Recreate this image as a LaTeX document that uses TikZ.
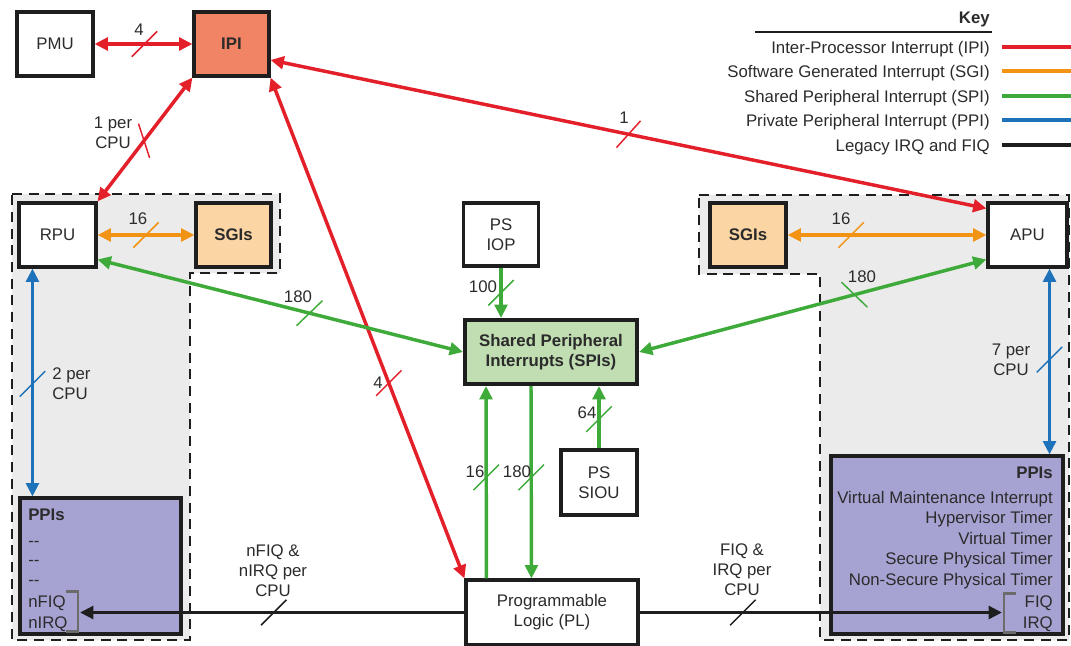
\documentclass[tikz,border=0pt]{standalone}
\usepackage{fontspec}
\setmainfont{Liberation Sans}
\usetikzlibrary{arrows.meta,calc}

\definecolor{ipired}{HTML}{E3202A}
\definecolor{sgiorange}{HTML}{F39313}
\definecolor{spigreen}{HTML}{3DAA3A}
\definecolor{ppiblue}{HTML}{1D72BA}
\definecolor{legacy}{HTML}{1E1E1E}
\definecolor{ink}{HTML}{2B2B2B}
\definecolor{ipifill}{HTML}{F08464}
\definecolor{sgifill}{HTML}{FBD5A4}
\definecolor{spifill}{HTML}{C1DEB2}
\definecolor{ppifill}{HTML}{A6A3D3}
\definecolor{groupfill}{HTML}{EBEBEB}
\definecolor{bracketgrey}{HTML}{6B6B6B}

\tikzset{slash/.pic={\draw[line width=1.1pt] (-18,0) -- (18,0);}}

\begin{document}
\begin{tikzpicture}[x=0.75pt,y=-0.75pt,
  base/.style={font=\fontsize{12.6}{15}\selectfont, text=ink, inner sep=0pt, align=center},
  bold/.style={base, font=\fontsize{12.6}{15}\selectfont\bfseries},
  box/.style={base, draw=legacy, line width=2.3pt, fill=white},
  group/.style={fill=groupfill, draw=legacy, line width=2.1pt, dash pattern=on 7.5pt off 5pt},
  wire/.style={line width=2.6pt},
  ipi/.style={wire, draw=ipired},
  sgi/.style={wire, draw=sgiorange},
  spi/.style={wire, draw=spigreen},
  ppi/.style={wire, draw=ppiblue},
  irq/.style={wire, draw=legacy},
  fwd/.style={arrows={-Triangle[length=10pt,width=9.5pt]}},
  both/.style={arrows={Triangle[length=10pt,width=9.5pt]-Triangle[length=10pt,width=9.5pt]}},
  bracket/.style={draw=bracketgrey, line width=1.6pt},
  swatch/.style={line width=3.2pt},
]
\useasboundingbox (0,0) rectangle (1071,646);

% processor groups (shaded, dashed outline)
\path[group] (12,194) -- (280,194) -- (280,273) -- (190,273) -- (190,640) -- (12,640) -- cycle;
\path[group] (699,195) -- (1069,195) -- (1069,640) -- (820,640) -- (820,274) -- (699,274) -- cycle;

% blocks
\node[box, minimum width=57pt, minimum height=48pt] (PMU) at (55,44) {PMU};
\node[box, bold, fill=ipifill, draw=legacy, line width=2.3pt, minimum width=56.25pt, minimum height=48pt] (IPI) at (231.5,44) {IPI};
\node[box, minimum width=57.75pt, minimum height=48pt] (RPU) at (57.5,235) {RPU};
\node[box, bold, fill=sgifill, draw=legacy, line width=2.3pt, minimum width=56.25pt, minimum height=48pt] (SGIL) at (233.5,235) {SGIs};
\node[box, bold, fill=sgifill, draw=legacy, line width=2.3pt, minimum width=57pt, minimum height=48pt] (SGIR) at (748,235) {SGIs};
\node[box, minimum width=59.25pt, minimum height=48pt] (APU) at (1027.5,235) {APU};
\node[box, minimum width=56.25pt, minimum height=47.25pt] (IOP) at (501,234.5) {PS\\IOP};
\node[box, bold, fill=spifill, draw=legacy, line width=3pt, minimum width=129pt, minimum height=48pt] (SPI) at (551,352) {Shared Peripheral\\Interrupts (SPIs)};
\node[box, minimum width=57pt, minimum height=48.75pt] (SIOU) at (599,482.5) {PS\\SIOU};
\node[box, minimum width=129pt, minimum height=48.75pt] (PL) at (552,612.5) {Programmable\\Logic (PL)};
\node[box, fill=ppifill, minimum width=120.75pt, minimum height=102pt] (PPIL) at (100.5,566) {};
\node[box, fill=ppifill, minimum width=174pt, minimum height=133.5pt] (PPIR) at (947,545) {};

% RPU private interrupts list
\node[bold, anchor=base west] (pl0) at (28,520) {PPIs};
\node[base, anchor=base west] (pl1) at (28,546) {-{}-};
\node[base, anchor=base west] (pl2) at (28,565) {-{}-};
\node[base, anchor=base west] (pl3) at (28,585) {-{}-};
\node[base, anchor=base west] (pl4) at (28,607) {nFIQ};
\node[base, anchor=base west] (pl5) at (28,628) {nIRQ};

% APU private interrupts list
\node[bold, anchor=base east] (pr0) at (1053,478) {PPIs};
\node[base, anchor=base east] (pr1) at (1053,503) {Virtual Maintenance Interrupt};
\node[base, anchor=base east] (pr2) at (1053,523) {Hypervisor Timer};
\node[base, anchor=base east] (pr3) at (1053,544) {Virtual Timer};
\node[base, anchor=base east] (pr4) at (1053,564) {Secure Physical Timer};
\node[base, anchor=base east] (pr5) at (1053,585) {Non-Secure Physical Timer};
\node[base, anchor=base east] (pr6) at (1053,607) {FIQ};
\node[base, anchor=base east] (pr7) at (1053,628) {IRQ};

% FIQ/IRQ inputs and their brackets
\coordinate (fiqL) at (80,612.5);
\coordinate (fiqR) at (1002,612.5);
\draw[bracket] ($(fiqL)+(-14,-21)$) -- ($(fiqL)+(-2,-21)$) -- ($(fiqL)+(-2,19)$) -- ($(fiqL)+(-14,19)$);
\draw[bracket] ($(fiqR)+(14,-19)$) -- ($(fiqR)+(2,-19)$) -- ($(fiqR)+(2,20)$) -- ($(fiqR)+(14,20)$);

% inter-processor interrupts
\draw[ipi,both] (PMU.east) -- coordinate[pos=.51] (tA) (IPI.west);
\draw[ipi,both] (RPU.north east) -- coordinate[pos=.49] (tB) (IPI.south west);
\draw[ipi,both] ($(IPI.east)+(0,16)$) -- coordinate[pos=.5] (tC) ($(APU.north west)+(0,7)$);
\draw[ipi,both] (IPI.south east) -- coordinate[pos=.61] (tD) (PL.north west);

% software generated interrupts
\draw[sgi,both] (RPU.east) -- coordinate[pos=.5] (tE) (SGIL.west);
\draw[sgi,both] (SGIR.east) -- coordinate[pos=.32] (tF) (APU.west);

% shared peripheral interrupts
\draw[spi,both] (SPI.west) -- coordinate[pos=.42] (tG) ($(RPU.south east)+(0,-9)$);
\draw[spi,both] (SPI.east) -- coordinate[pos=.62] (tH) ($(APU.south west)+(0,-9)$);
\draw[spi,fwd] (IOP.south) -- coordinate[pos=.5] (tI) (IOP.south |- SPI.north);
\draw[spi,fwd] ($(PL.north west)+(22,0)$) -- coordinate[pos=.525] (tJ) ($(SPI.south west)+(23,0)$);
\draw[spi,fwd] ($(SPI.south west)+(68,0)$) -- coordinate[pos=.475] (tK) ($(PL.north west)+(67,0)$);
\draw[spi,fwd] (SIOU.north) -- coordinate[pos=.47] (tL) (SIOU.north |- SPI.south);

% private peripheral interrupts
\draw[ppi,both] ($(RPU.south west)+(15,0)$) -- coordinate[pos=.506] (tM) ($(PPIL.north west)+(14,0)$);
\draw[ppi,both] ($(APU.south east)+(-19,0)$) -- coordinate[pos=.49] (tN) ($(PPIR.north east)+(-15,0)$);

% legacy IRQ and FIQ
\draw[irq,fwd] (PL.west) -- coordinate[pos=.496] (tO) (fiqL);
\draw[irq,fwd] (PL.east) -- coordinate[pos=.285] (tP) (fiqR);

% bus-width slashes
\pic[rotate=45,ipired] at (tA) {slash};
\pic[rotate=-72,ipired] at (tB) {slash};
\pic[rotate=48,ipired] at (tC) {slash};
\pic[rotate=45,ipired] at (tD) {slash};
\pic[rotate=45,sgiorange] at (tE) {slash};
\pic[rotate=45,sgiorange] at (tF) {slash};
\pic[rotate=44,spigreen] at (tG) {slash};
\pic[rotate=-44,spigreen] at (tH) {slash};
\pic[rotate=45,spigreen] at (tI) {slash};
\pic[rotate=45,spigreen] at (tJ) {slash};
\pic[rotate=45,spigreen] at (tK) {slash};
\pic[rotate=45,spigreen] at (tL) {slash};
\pic[rotate=45,ppiblue] at (tM) {slash};
\pic[rotate=45,ppiblue] at (tN) {slash};
\pic[rotate=45,legacy] at (tO) {slash};
\pic[rotate=45,legacy] at (tP) {slash};

% bus-width labels
\node[base] (wA) at (139,30) {4};
\node[base] (wB) at (113,133) {1 per\\CPU};
\node[base] (wC) at (624,118) {1};
\node[base] (wD) at (378,383) {4};
\node[base] (wE) at (138,219) {16};
\node[base] (wF) at (841,219) {16};
\node[base] (wG) at (298,297) {180};
\node[base] (wH) at (862,277) {180};
\node[base] (wI) at (483,287) {100};
\node[base] (wJ) at (475,472) {16};
\node[base] (wK) at (517,472) {180};
\node[base] (wL) at (587,413) {64};
\node[base, anchor=west, align=left] (wM) at (52,384) {2 per\\CPU};
\node[base] (wN) at (1011,360) {7 per\\CPU};
\node[base] (wO) at (273,571) {nFIQ \&\\nIRQ per\\CPU};
\node[base] (wP) at (742,570) {FIQ \&\\IRQ per\\CPU};

% key
\node[bold, anchor=base east] (key) at (990,23) {Key};
\draw[legacy, line width=1.6pt] (755,32) -- (992,32);
\node[base, anchor=base east] (k1) at (990,53) {Inter-Processor Interrupt (IPI)};
\node[base, anchor=base east] (k2) at (990,77) {Software Generated Interrupt (SGI)};
\node[base, anchor=base east] (k3) at (990,102) {Shared Peripheral Interrupt (SPI)};
\node[base, anchor=base east] (k4) at (990,126) {Private Peripheral Interrupt (PPI)};
\node[base, anchor=base east] (k5) at (990,151) {Legacy IRQ and FIQ};
\draw[swatch, ipired] (1002,47) -- (1071,47);
\draw[swatch, sgiorange] (1002,71) -- (1071,71);
\draw[swatch, spigreen] (1002,96) -- (1071,96);
\draw[swatch, ppiblue] (1002,120) -- (1071,120);
\draw[swatch, legacy] (1002,145) -- (1071,145);
\end{tikzpicture}
\end{document}
